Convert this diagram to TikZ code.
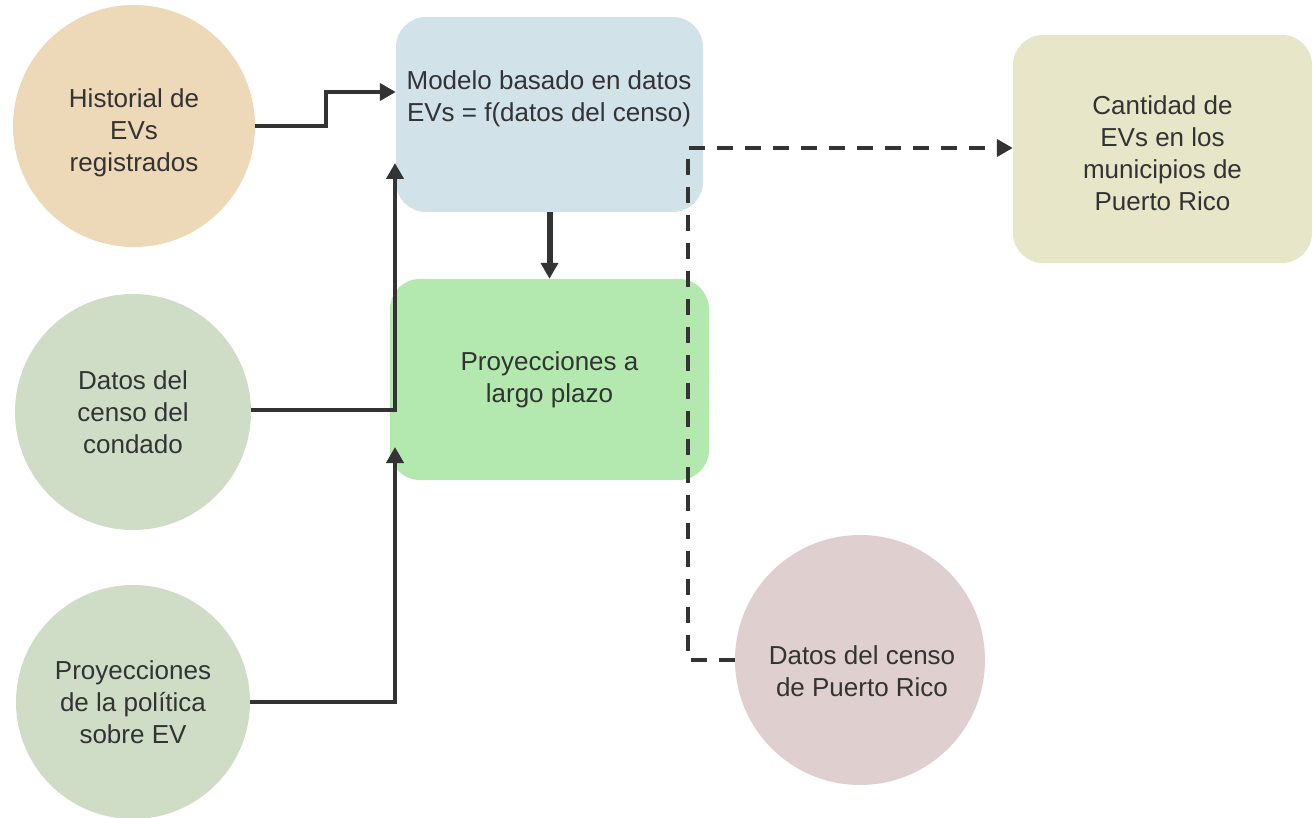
\documentclass[tikz,border=0pt]{standalone}
\usepackage{fontspec}
\setmainfont{Liberation Sans}
\usetikzlibrary{arrows.meta,calc}
\definecolor{txt}{HTML}{333333}
\definecolor{corange}{HTML}{EDD8B8}
\definecolor{cgreen}{HTML}{CFDDC6}
\definecolor{cblue}{HTML}{D1E2E8}
\definecolor{cbright}{HTML}{B3E9AE}
\definecolor{colive}{HTML}{E7E6C9}
\definecolor{cpink}{HTML}{DFCFCF}
\tikzset{
  lbl/.style={text=txt,font=\fontsize{26}{32}\selectfont,align=center},
  circ/.style={circle,lbl,inner sep=0pt},
  rbox/.style={rounded corners=30pt,lbl,inner sep=0pt},
  arr/.style={draw=txt,line width=4.3pt,-{Triangle[length=16pt,width=17pt]}},
  thickarr/.style={draw=txt,line width=6pt,-{Triangle[length=16pt,width=17pt]}},
  dasharr/.style={draw=txt,line width=4.3pt,dash pattern=on 16pt off 12pt,-{Triangle[length=16pt,width=17pt]}}
}
\begin{document}
\begin{tikzpicture}[x=1pt,y=-1pt]
\useasboundingbox (0,0) rectangle (1315,818);
% nodes
\node[circ,fill=corange,minimum size=242pt] (c1) at (134,126) {};
\node[lbl] at (134,133) {Historial de\\EVs\\registrados};
\node[circ,fill=cgreen,minimum size=236pt] (c2) at (133,412) {Datos del\\censo del\\condado};
\node[circ,fill=cgreen,minimum size=234pt] (c3) at (133,702) {Proyecciones\\de la política\\sobre EV};
\node[circ,fill=cpink,minimum size=250pt] (c4) at (860,660) {};
\node[lbl] at (862,671) {Datos del censo\\de Puerto Rico};
\node[rbox,fill=cblue,minimum width=307pt,minimum height=195pt] (blue) at (549.5,114.5) {};
\node[lbl] at (549,99) {Modelo basado en datos\\EVs = f(datos del censo)};
\node[rbox,fill=cbright,minimum width=319pt,minimum height=201pt] (green) at (549.5,379.5) {Proyecciones a\\largo plazo};
\node[rbox,fill=colive,minimum width=299pt,minimum height=228pt] (olive) at (1162.5,149) {};
\node[lbl] at (1162.5,153) {Cantidad de\\EVs en los\\municipios de\\Puerto Rico};
% connectors
\draw[arr] (c1.east) -- (326,126) -- (326,92) -- (blue.west |- 0,92);
\draw[arr] (c2.east |- 0,410) -- (395,410) -- (395,163);
\draw[arr] (c3.east |- 0,702) -- (395,702) -- (395,447);
\draw[thickarr] (blue.south) -- (green.north);
\draw[dasharr] (c4.west) -- (688,660) -- (688,148) -- (olive.west |- 0,148);
\end{tikzpicture}
\end{document}
